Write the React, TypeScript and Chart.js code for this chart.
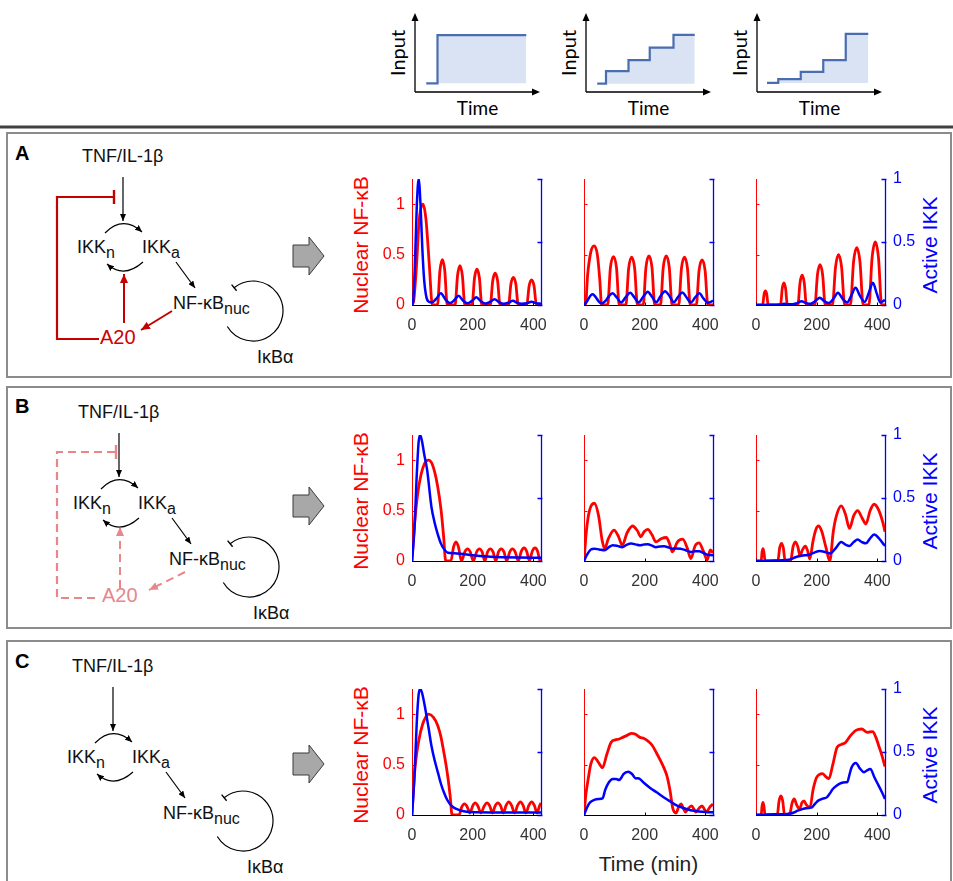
import React, { useEffect, useRef } from 'react';
import { Chart, registerables } from 'chart.js';
Chart.register(...registerables);

// ---------------- data ----------------
const X_TICKS = [0, 200, 400];
const NFKB_TICKS = [0, 0.5, 1];
const IKK_TICKS = [0, 0.5, 1];
const X_MAX = 425;
const NFKB_MAX = 1.25;
const IKK_MAX = 1;

// input schematics (relative time 0..100, relative level 0..1)
const INPUT1_T = [9, 18, 89];
const INPUT1_V = [0.11, 0.72, 0.72];
const INPUT2_T = [9, 16, 34, 51, 70, 87];
const INPUT2_V = [0.106, 0.264, 0.404, 0.562, 0.723, 0.723];
const INPUT3_T = [8, 17, 35, 53, 71, 89];
const INPUT3_V = [0.115, 0.162, 0.255, 0.404, 0.736, 0.736];

// Panel A
const A1_NFKB_T = [0, 6, 14, 24, 36, 46, 57, 67, 84, 92, 100, 108, 116, 142, 150, 158, 166, 174, 198, 206, 214, 222, 230, 258, 266, 274, 282, 290, 318, 326, 334, 342, 350, 378, 386, 394, 402, 410, 425];
const A1_NFKB_V = [0, 0.05, 0.35, 0.85, 1.0, 0.85, 0.4, 0, 0, 0.34, 0.45, 0.34, 0, 0, 0.29, 0.39, 0.29, 0, 0, 0.27, 0.355, 0.27, 0, 0, 0.24, 0.315, 0.24, 0, 0, 0.21, 0.275, 0.21, 0, 0, 0.19, 0.25, 0.19, 0, 0];
const A1_IKK_T = [0, 4, 10, 16, 22, 28, 34, 40, 46, 53, 65, 80, 95, 110, 125, 140, 153, 168, 183, 198, 212, 227, 242, 257, 272, 287, 302, 317, 332, 347, 362, 378, 394, 410, 425];
const A1_IKK_V = [0, 0.03, 0.35, 0.8, 1.0, 0.8, 0.45, 0.2, 0.08, 0.03, 0.02, 0.05, 0.093, 0.045, 0.015, 0.04, 0.074, 0.035, 0.013, 0.033, 0.061, 0.03, 0.012, 0.025, 0.045, 0.022, 0.01, 0.018, 0.034, 0.017, 0.01, 0.014, 0.026, 0.014, 0.01];

const A2_NFKB_T = [0, 5, 12, 22, 33, 44, 52, 58, 78, 87, 97, 107, 116, 138, 147, 157, 167, 176, 195, 204, 214, 224, 233, 252, 261, 271, 281, 290, 312, 321, 331, 341, 350, 370, 379, 389, 399, 408, 425];
const A2_NFKB_V = [0, 0, 0.3, 0.52, 0.587, 0.5, 0.25, 0, 0, 0.37, 0.48, 0.37, 0, 0, 0.36, 0.475, 0.36, 0, 0, 0.37, 0.487, 0.37, 0, 0, 0.37, 0.487, 0.37, 0, 0, 0.36, 0.475, 0.36, 0, 0, 0.34, 0.448, 0.34, 0, 0];
const A2_IKK_T = [0, 10, 20, 28, 38, 48, 58, 70, 82, 94, 108, 122, 137, 152, 166, 180, 195, 210, 224, 238, 252, 267, 282, 296, 310, 324, 338, 352, 366, 380, 394, 408, 418, 425];
const A2_IKK_V = [0, 0.03, 0.07, 0.085, 0.065, 0.03, 0.012, 0.03, 0.07, 0.093, 0.06, 0.02, 0.06, 0.098, 0.06, 0.02, 0.065, 0.106, 0.065, 0.022, 0.07, 0.11, 0.07, 0.022, 0.065, 0.1, 0.06, 0.02, 0.06, 0.093, 0.05, 0.018, 0.025, 0.035];

const A3_NFKB_T = [0, 22, 26.5, 31, 35.5, 40, 81, 86.5, 92, 97.5, 103, 138, 145, 152, 159, 166, 194, 202.5, 211, 219.5, 228, 252, 262, 272, 282, 292, 311, 321.5, 332, 342.5, 353, 372, 382.5, 393, 403.5, 414, 425];
const A3_NFKB_V = [0, 0, 0.105, 0.14, 0.105, 0, 0, 0.165, 0.22, 0.165, 0, 0, 0.22, 0.295, 0.22, 0, 0, 0.3, 0.4, 0.3, 0, 0, 0.375, 0.5, 0.375, 0, 0, 0.43, 0.57, 0.43, 0, 0, 0.47, 0.625, 0.47, 0, 0];
const A3_IKK_T = [0, 40, 80, 92, 105, 120, 135, 150, 165, 180, 195, 210, 225, 240, 255, 270, 285, 300, 314, 328, 343, 358, 372, 385, 398, 410, 418, 425];
const A3_IKK_V = [0, 0.002, 0.004, 0.01, 0.006, 0.005, 0.015, 0.03, 0.015, 0.01, 0.03, 0.058, 0.03, 0.015, 0.05, 0.098, 0.05, 0.02, 0.075, 0.137, 0.07, 0.025, 0.1, 0.177, 0.09, 0.02, 0.03, 0.04];

// Panel B
const B1_NFKB_T = [0, 8, 18, 30, 42, 54, 68, 84, 96, 104, 111, 128, 137, 145, 153, 163, 174, 183, 192, 202, 213, 222, 231, 240, 249, 258, 267, 276, 285, 294, 303, 312, 322, 331, 340, 350, 360, 369, 378, 387, 396, 405, 414, 422, 425];
const B1_NFKB_V = [0, 0.35, 0.65, 0.86, 0.97, 1.0, 0.95, 0.75, 0.5, 0.25, 0, 0, 0.14, 0.19, 0.14, 0, 0.09, 0.12, 0.09, 0, 0.09, 0.12, 0.09, 0, 0.09, 0.12, 0.09, 0, 0.09, 0.12, 0.09, 0, 0.09, 0.12, 0.09, 0, 0.095, 0.13, 0.095, 0, 0.095, 0.13, 0.095, 0, 0.01];
const B1_IKK_T = [0, 8, 16, 22, 27, 33, 40, 50, 64, 75, 84, 95, 104, 118, 140, 160, 200, 250, 300, 350, 425];
const B1_IKK_V = [0, 0.25, 0.7, 0.95, 1.0, 0.95, 0.85, 0.72, 0.43, 0.3, 0.22, 0.14, 0.1, 0.066, 0.062, 0.058, 0.045, 0.035, 0.03, 0.027, 0.025];

const B2_NFKB_T = [0, 8, 18, 34, 48, 60, 68, 80, 99, 114, 126, 142, 160, 176, 187, 198, 210, 224, 237, 254, 271, 282, 291, 308, 325, 340, 352, 366, 379, 393, 406, 416, 425];
const B2_NFKB_V = [0, 0.3, 0.5, 0.573, 0.45, 0.2, 0.123, 0.22, 0.307, 0.24, 0.157, 0.28, 0.347, 0.3, 0.24, 0.29, 0.313, 0.26, 0.19, 0.22, 0.233, 0.17, 0.09, 0.19, 0.217, 0.13, 0.023, 0.15, 0.18, 0.1, 0.01, 0.11, 0.08];
const B2_IKK_T = [0, 10, 22, 34, 50, 68, 82, 95, 110, 126, 140, 156, 170, 183, 196, 210, 224, 237, 250, 264, 278, 291, 305, 318, 335, 352, 366, 379, 393, 406, 416, 425];
const B2_IKK_V = [0, 0.05, 0.09, 0.098, 0.092, 0.085, 0.11, 0.125, 0.12, 0.11, 0.128, 0.138, 0.132, 0.125, 0.13, 0.133, 0.122, 0.11, 0.115, 0.117, 0.108, 0.098, 0.1, 0.098, 0.085, 0.072, 0.077, 0.077, 0.065, 0.05, 0.047, 0.045];

const B3_NFKB_T = [0, 17, 20, 23, 26, 30, 72, 78, 84, 90, 96, 114, 122, 130, 138, 145, 153, 163, 170, 177, 188, 197, 206, 216, 230, 243, 255, 266, 281, 295, 308, 322, 335, 349, 362, 376, 389, 405, 418, 425];
const B3_NFKB_V = [0, 0, 0.09, 0.123, 0.09, 0, 0, 0.13, 0.175, 0.13, 0, 0, 0.14, 0.19, 0.14, 0.05, 0.11, 0.147, 0.1, 0.02, 0.2, 0.31, 0.347, 0.3, 0.14, 0, 0.3, 0.46, 0.547, 0.46, 0.323, 0.45, 0.5, 0.43, 0.367, 0.5, 0.563, 0.5, 0.38, 0.29];
const B3_IKK_T = [0, 60, 100, 115, 130, 145, 160, 175, 190, 210, 228, 245, 262, 281, 295, 308, 322, 335, 349, 362, 376, 389, 405, 418, 425];
const B3_IKK_V = [0, 0.003, 0.008, 0.015, 0.03, 0.04, 0.045, 0.05, 0.065, 0.08, 0.072, 0.06, 0.1, 0.15, 0.13, 0.12, 0.15, 0.17, 0.15, 0.14, 0.18, 0.21, 0.18, 0.14, 0.12];

// Panel C
const C1_NFKB_T = [0, 8, 15, 23, 35, 45, 55, 70, 85, 95, 105, 112, 119, 126, 132, 155, 164, 173, 182, 191, 200, 208, 217, 227, 238, 247, 256, 265, 274, 283, 292, 301, 310, 319, 328, 338, 348, 357, 366, 375, 385, 394, 403, 412, 420, 425];
const C1_NFKB_V = [0, 0.4, 0.6, 0.75, 0.9, 0.97, 1.0, 0.97, 0.886, 0.78, 0.62, 0.5, 0.357, 0.18, 0, 0, 0.08, 0.11, 0.08, 0.02, 0.09, 0.12, 0.09, 0.02, 0.09, 0.12, 0.09, 0.02, 0.09, 0.12, 0.09, 0.02, 0.095, 0.13, 0.095, 0.02, 0.095, 0.13, 0.095, 0.02, 0.095, 0.13, 0.095, 0.02, 0.09, 0.12];
const C1_IKK_T = [0, 8, 16, 22, 27, 33, 44, 54, 64, 75, 85, 95, 105, 115, 125, 136, 146, 160, 180, 220, 300, 425];
const C1_IKK_V = [0, 0.3, 0.75, 0.96, 1.0, 0.97, 0.84, 0.7, 0.55, 0.43, 0.34, 0.25, 0.18, 0.125, 0.087, 0.062, 0.048, 0.036, 0.026, 0.022, 0.02, 0.02];

const C2_NFKB_T = [0, 6, 14, 22, 34, 48, 61, 75, 89, 103, 116, 128, 142, 157, 170, 184, 198, 212, 225, 238, 252, 263, 273, 283, 293, 303, 312, 320, 328, 334, 345, 355, 362, 368, 380, 389, 396, 403, 415, 425];
const C2_NFKB_V = [0, 0.2, 0.36, 0.5, 0.57, 0.52, 0.47, 0.6, 0.72, 0.745, 0.754, 0.77, 0.79, 0.81, 0.8, 0.77, 0.76, 0.73, 0.69, 0.62, 0.54, 0.47, 0.39, 0.25, 0.06, 0.02, 0.08, 0.11, 0.06, 0.03, 0.07, 0.09, 0.06, 0.03, 0.07, 0.09, 0.06, 0.03, 0.08, 0.11];
const C2_IKK_T = [0, 10, 20, 34, 48, 61, 70, 82, 95, 106, 116, 124, 130, 146, 158, 171, 178, 184, 198, 218, 239, 260, 280, 295, 307, 328, 348, 368, 389, 410, 425];
const C2_IKK_V = [0, 0.06, 0.1, 0.12, 0.127, 0.132, 0.2, 0.26, 0.286, 0.285, 0.278, 0.3, 0.325, 0.344, 0.325, 0.29, 0.292, 0.286, 0.254, 0.215, 0.18, 0.145, 0.114, 0.09, 0.074, 0.055, 0.04, 0.032, 0.026, 0.022, 0.021];

const C3_NFKB_T = [0, 17, 20, 23, 26, 30, 70, 76, 82, 88, 94, 112, 119, 126, 134, 144, 151, 158, 166, 178, 188, 199, 210, 219, 230, 240, 253, 267, 281, 295, 312, 329, 349, 360, 367, 375, 384, 395, 404, 415, 425];
const C3_NFKB_V = [0, 0, 0.09, 0.125, 0.09, 0, 0, 0.14, 0.19, 0.14, 0, 0.02, 0.12, 0.16, 0.1, 0.06, 0.12, 0.14, 0.1, 0.076, 0.25, 0.37, 0.405, 0.41, 0.38, 0.36, 0.5, 0.67, 0.7, 0.72, 0.79, 0.84, 0.853, 0.83, 0.82, 0.825, 0.827, 0.77, 0.69, 0.59, 0.48];
const C3_IKK_T = [0, 60, 110, 125, 137, 150, 164, 178, 185, 195, 205, 220, 233, 243, 253, 267, 281, 295, 301, 308, 315, 329, 342, 356, 366, 377, 390, 404, 415, 425];
const C3_IKK_V = [0, 0.005, 0.01, 0.02, 0.034, 0.045, 0.053, 0.058, 0.062, 0.09, 0.114, 0.13, 0.14, 0.17, 0.206, 0.235, 0.254, 0.26, 0.262, 0.32, 0.378, 0.413, 0.37, 0.339, 0.355, 0.365, 0.3, 0.233, 0.18, 0.127];

// ---------------- layout / style ----------------
const FONT = "'Liberation Sans', Arial, Helvetica, sans-serif";
const COL_X = [412, 584, 756];
const ROW_Y = [179, 435, 689];
const AREA_W = 129;
const AREA_H = 126;
const PAD_L = 45, PAD_R = 45, PAD_T = 12, PAD_B = 34;

const INPUT_X = [415, 586, 757];
const INPUT_TOP = 13;
const INPUT_W = 125;
const INPUT_H = 79;
const INPUT_PAD = 8;

const RED = '#ff0000';
const BLUE = '#0000ff';

const PLOTS = [
  { r: 0, c: 0, nfT: A1_NFKB_T, nfV: A1_NFKB_V, ikT: A1_IKK_T, ikV: A1_IKK_V },
  { r: 0, c: 1, nfT: A2_NFKB_T, nfV: A2_NFKB_V, ikT: A2_IKK_T, ikV: A2_IKK_V },
  { r: 0, c: 2, nfT: A3_NFKB_T, nfV: A3_NFKB_V, ikT: A3_IKK_T, ikV: A3_IKK_V },
  { r: 1, c: 0, nfT: B1_NFKB_T, nfV: B1_NFKB_V, ikT: B1_IKK_T, ikV: B1_IKK_V },
  { r: 1, c: 1, nfT: B2_NFKB_T, nfV: B2_NFKB_V, ikT: B2_IKK_T, ikV: B2_IKK_V },
  { r: 1, c: 2, nfT: B3_NFKB_T, nfV: B3_NFKB_V, ikT: B3_IKK_T, ikV: B3_IKK_V },
  { r: 2, c: 0, nfT: C1_NFKB_T, nfV: C1_NFKB_V, ikT: C1_IKK_T, ikV: C1_IKK_V },
  { r: 2, c: 1, nfT: C2_NFKB_T, nfV: C2_NFKB_V, ikT: C2_IKK_T, ikV: C2_IKK_V },
  { r: 2, c: 2, nfT: C3_NFKB_T, nfV: C3_NFKB_V, ikT: C3_IKK_T, ikV: C3_IKK_V },
];

const INPUTS = [
  { t: INPUT1_T, v: INPUT1_V },
  { t: INPUT2_T, v: INPUT2_V },
  { t: INPUT3_T, v: INPUT3_V },
];

const toXY = (t: number[], v: number[]) => t.map((x, i) => ({ x, y: v[i] }));

// ---------------- plugins ----------------
const dualAxesPlugin = {
  id: 'dualAxes',
  beforeDatasetsDraw(chart: any) {
    const { ctx, chartArea: a, scales } = chart;
    const xs = scales.x, yl = scales.y, yr = scales.y1;
    ctx.save();
    // left (red)
    const lx = Math.round(a.left) + 0.5;
    ctx.strokeStyle = RED;
    ctx.lineWidth = 1;
    ctx.beginPath();
    ctx.moveTo(lx, a.top);
    ctx.lineTo(lx, a.bottom);
    NFKB_TICKS.forEach((v) => {
      const py = Math.round(yl.getPixelForValue(v)) + 0.5;
      ctx.moveTo(lx, py);
      ctx.lineTo(lx + 3, py);
    });
    ctx.stroke();
    // right (blue)
    const rx = Math.round(a.right) + 0.5;
    ctx.strokeStyle = BLUE;
    ctx.lineWidth = 1.3;
    ctx.beginPath();
    ctx.moveTo(rx, a.top);
    ctx.lineTo(rx, a.bottom);
    IKK_TICKS.forEach((v) => {
      const py = Math.round(yr.getPixelForValue(v)) + 0.5;
      ctx.moveTo(rx + 1, py);
      ctx.lineTo(rx - 4, py);
    });
    ctx.stroke();
    // bottom (black)
    ctx.strokeStyle = '#000';
    ctx.lineWidth = 1;
    const by = Math.round(yl.getPixelForValue(0)) + 0.5;
    ctx.beginPath();
    ctx.moveTo(a.left, by);
    ctx.lineTo(a.right, by);
    X_TICKS.forEach((v) => {
      const px = Math.round(xs.getPixelForValue(v)) + 0.5;
      ctx.moveTo(px, by);
      ctx.lineTo(px, by - 3);
    });
    ctx.stroke();
    ctx.restore();
  },
};

const arrowAxesPlugin = {
  id: 'arrowAxes',
  afterDraw(chart: any) {
    const { ctx, chartArea: a } = chart;
    ctx.save();
    ctx.strokeStyle = '#000';
    ctx.fillStyle = '#000';
    ctx.lineWidth = 1.3;
    ctx.beginPath();
    ctx.moveTo(a.left, a.bottom);
    ctx.lineTo(a.left, a.top + 5);
    ctx.moveTo(a.left, a.bottom);
    ctx.lineTo(a.right - 5, a.bottom);
    ctx.stroke();
    ctx.beginPath();
    ctx.moveTo(a.left, a.top);
    ctx.lineTo(a.left - 3.5, a.top + 8);
    ctx.lineTo(a.left + 3.5, a.top + 8);
    ctx.closePath();
    ctx.fill();
    ctx.beginPath();
    ctx.moveTo(a.right, a.bottom);
    ctx.lineTo(a.right - 8, a.bottom - 3.5);
    ctx.lineTo(a.right - 8, a.bottom + 3.5);
    ctx.closePath();
    ctx.fill();
    ctx.restore();
  },
};

// ---------------- chart components ----------------
function DualPlot({ r, c, nfT, nfV, ikT, ikV }: any) {
  const ref = useRef<HTMLCanvasElement>(null);
  const w = PAD_L + AREA_W + PAD_R;
  const h = PAD_T + AREA_H + PAD_B;
  const showLeft = c === 0;
  const showRight = c === 2;
  useEffect(() => {
    const chart = new Chart(ref.current as HTMLCanvasElement, {
      type: 'line',
      data: {
        datasets: [
          {
            data: toXY(ikT, ikV),
            yAxisID: 'y1',
            borderColor: BLUE,
            borderWidth: 2.5,
            pointRadius: 0,
            fill: false,
            cubicInterpolationMode: 'monotone',
          },
          {
            data: toXY(nfT, nfV),
            yAxisID: 'y',
            borderColor: RED,
            borderWidth: 2.8,
            pointRadius: 0,
            fill: false,
            cubicInterpolationMode: 'monotone',
          },
        ],
      } as any,
      options: {
        animation: false,
        responsive: false,
        events: [],
        layout: { padding: { top: PAD_T, left: 0, right: 0, bottom: 0 } },
        plugins: { legend: { display: false }, tooltip: { enabled: false } },
        scales: {
          x: {
            type: 'linear',
            min: 0,
            max: X_MAX,
            grid: { display: false, drawTicks: false },
            border: { display: false },
            afterBuildTicks: (s: any) => {
              s.ticks = X_TICKS.map((v) => ({ value: v }));
            },
            afterFit: (s: any) => {
              s.height = PAD_B;
              s.paddingLeft = 0;
              s.paddingRight = 0;
            },
            ticks: {
              font: { family: FONT, size: 16 },
              color: '#333',
              padding: 11,
              maxRotation: 0,
              autoSkip: false,
              callback: (v: any) => String(v),
            },
          },
          y: {
            type: 'linear',
            position: 'left',
            min: 0,
            max: NFKB_MAX,
            grid: { display: false, drawTicks: false },
            border: { display: false },
            afterBuildTicks: (s: any) => {
              s.ticks = NFKB_TICKS.map((v) => ({ value: v }));
            },
            afterFit: (s: any) => {
              s.width = PAD_L;
              s.paddingTop = 0;
              s.paddingBottom = 0;
            },
            ticks: {
              display: showLeft,
              font: { family: FONT, size: 16 },
              color: RED,
              padding: 7,
              callback: (v: any) => String(v),
            },
          },
          y1: {
            type: 'linear',
            position: 'right',
            min: 0,
            max: IKK_MAX,
            grid: { display: false, drawTicks: false },
            border: { display: false },
            afterBuildTicks: (s: any) => {
              s.ticks = IKK_TICKS.map((v) => ({ value: v }));
            },
            afterFit: (s: any) => {
              s.width = PAD_R;
              s.paddingTop = 0;
              s.paddingBottom = 0;
            },
            ticks: {
              display: showRight,
              font: { family: FONT, size: 16 },
              color: BLUE,
              padding: 8,
              callback: (v: any) => String(v),
            },
          },
        },
      } as any,
      plugins: [dualAxesPlugin],
    });
    return () => chart.destroy();
  }, []);
  return (
    <canvas
      ref={ref}
      width={w}
      height={h}
      style={{ position: 'absolute', left: COL_X[c] - PAD_L, top: ROW_Y[r] - PAD_T, width: w, height: h }}
    />
  );
}

function InputPlot({ idx, t, v }: any) {
  const ref = useRef<HTMLCanvasElement>(null);
  const w = INPUT_W + 2 * INPUT_PAD;
  const h = INPUT_H + 2 * INPUT_PAD;
  useEffect(() => {
    const chart = new Chart(ref.current as HTMLCanvasElement, {
      type: 'line',
      data: {
        datasets: [
          {
            data: toXY(t, v),
            stepped: 'before',
            borderColor: '#4a6db0',
            borderWidth: 2.2,
            backgroundColor: '#dae3f3',
            fill: { value: v[0] },
            pointRadius: 0,
          },
        ],
      } as any,
      options: {
        animation: false,
        responsive: false,
        events: [],
        layout: { padding: INPUT_PAD },
        plugins: { legend: { display: false }, tooltip: { enabled: false } },
        scales: {
          x: { type: 'linear', min: 0, max: 100, display: false },
          y: { type: 'linear', min: 0, max: 1, display: false },
        },
      } as any,
      plugins: [arrowAxesPlugin],
    });
    return () => chart.destroy();
  }, []);
  return (
    <canvas
      ref={ref}
      width={w}
      height={h}
      style={{ position: 'absolute', left: INPUT_X[idx] - INPUT_PAD, top: INPUT_TOP - INPUT_PAD, width: w, height: h }}
    />
  );
}

// ---------------- network diagrams ----------------
function Network({ dx, dy }: { dx: number; dy: number }) {
  const k = '#000';
  return (
    <g transform={`translate(${dx},${dy})`} fill="#111" fontSize={18}>
      <text x={82} y={162}>TNF/IL-1β</text>
      <line x1={123} y1={177} x2={123} y2={221} stroke={k} strokeWidth={1.2} markerEnd="url(#ahK)" />
      <path d="M105,233 Q123,215 142,232" fill="none" stroke={k} strokeWidth={1.2} markerEnd="url(#ahK)" />
      <text x={77} y={253}>IKK<tspan fontSize={16} dy={5}>n</tspan></text>
      <text x={142} y={253}>IKK<tspan fontSize={16} dy={5}>a</tspan></text>
      <path d="M143,262 Q124,279 107,264" fill="none" stroke={k} strokeWidth={1.2} markerEnd="url(#ahK)" />
      <line x1={176} y1={262} x2={195} y2={288} stroke={k} strokeWidth={1.2} markerEnd="url(#ahK)" />
      <text x={173} y={309}>NF-κB<tspan fontSize={16} dy={5}>nuc</tspan></text>
      <path d="M234.1,287.7 A30,30 0 1 1 227.3,326.5" fill="none" stroke={k} strokeWidth={1.2} />
      <line x1={231.6} y1={284.6} x2={236.6} y2={290.8} stroke={k} strokeWidth={1.4} />
      <text x={257} y={363}>IκBα</text>
    </g>
  );
}

function BlockArrow({ cy }: { cy: number }) {
  const pts = [
    [293, cy - 11], [309, cy - 11], [309, cy - 19], [324, cy],
    [309, cy + 19], [309, cy + 11], [293, cy + 11],
  ].map((p) => p.join(',')).join(' ');
  return <polygon points={pts} fill="#a8a8a8" stroke="#3a3a3a" strokeWidth={1} />;
}

function Overlay() {
  const dred = '#c40000';
  const pink = '#e8868a';
  return (
    <svg width={953} height={881} style={{ position: 'absolute', left: 0, top: 0 }} fontFamily={FONT}>
      <defs>
        <marker id="ahK" markerUnits="userSpaceOnUse" markerWidth={7} markerHeight={6} viewBox="0 0 7 6" refX={7} refY={3} orient="auto">
          <path d="M0,0 L7,3 L0,6 z" fill="#000" />
        </marker>
        <marker id="ahR" markerUnits="userSpaceOnUse" markerWidth={9} markerHeight={8} viewBox="0 0 9 8" refX={9} refY={4} orient="auto">
          <path d="M0,0 L9,4 L0,8 z" fill={dred} />
        </marker>
        <marker id="ahP" markerUnits="userSpaceOnUse" markerWidth={9} markerHeight={8} viewBox="0 0 9 8" refX={9} refY={4} orient="auto">
          <path d="M0,0 L9,4 L0,8 z" fill={pink} />
        </marker>
      </defs>

      {/* separator and panel frames */}
      <rect x={0} y={125.5} width={953} height={3} fill="#404040" />
      <rect x={7} y={133} width={944} height={244} fill="none" stroke="#8c8c8c" strokeWidth={2} />
      <rect x={7} y={387} width={944} height={241} fill="none" stroke="#8c8c8c" strokeWidth={2} />
      <rect x={7} y={641} width={944} height={250} fill="none" stroke="#8c8c8c" strokeWidth={2} />

      {/* input schematic labels */}
      {INPUT_X.map((x, i) => (
        <g key={'in' + i}>
          <text transform={`translate(${x - 10},${INPUT_TOP + 40}) rotate(-90)`} textAnchor="middle" fontFamily="Lato, 'Open Sans', sans-serif" fontSize={20} fill="#000">Input</text>
          <text x={x + INPUT_W / 2} y={115} textAnchor="middle" fontFamily="Lato, 'Open Sans', sans-serif" fontSize={19} fill="#000">Time</text>
        </g>
      ))}

      {/* panel letters */}
      <text x={15} y={160} fontSize={20} fontWeight="bold" fill="#000">A</text>
      <text x={15} y={413} fontSize={20} fontWeight="bold" fill="#000">B</text>
      <text x={15} y={668} fontSize={20} fontWeight="bold" fill="#000">C</text>

      {/* networks */}
      <Network dx={0} dy={0} />
      <Network dx={-4} dy={256} />
      <Network dx={-10} dy={510} />

      {/* A20 feedback, panel A */}
      <polyline points="114,197 57,197 57,339 99,339" fill="none" stroke={dred} strokeWidth={2.2} />
      <line x1={114} y1={190} x2={114} y2={204} stroke={dred} strokeWidth={2.4} />
      <line x1={124} y1={323} x2={124} y2={274} stroke={dred} strokeWidth={2} markerEnd="url(#ahR)" />
      <line x1={172} y1={311} x2={141} y2={330} stroke={dred} strokeWidth={2} markerEnd="url(#ahR)" />
      <text x={100} y={344} fontSize={20} fill="#d10000">A20</text>

      {/* A20 feedback, panel B (dashed) */}
      <polyline points="115,452 57,452 57,598 99,598" fill="none" stroke={pink} strokeWidth={2.2} strokeDasharray="8 5" />
      <line x1={116} y1={445} x2={116} y2={459} stroke={pink} strokeWidth={2.4} />
      <line x1={120} y1={588} x2={120} y2={527} stroke={pink} strokeWidth={2} strokeDasharray="8 5" markerEnd="url(#ahP)" />
      <line x1={185} y1={572} x2={149} y2={590} stroke={pink} strokeWidth={2} strokeDasharray="8 5" markerEnd="url(#ahP)" />
      <text x={102} y={602} fontSize={20} fill={pink}>A20</text>

      {/* block arrows */}
      <BlockArrow cy={256} />
      <BlockArrow cy={506} />
      <BlockArrow cy={764} />

      {/* axis titles */}
      {ROW_Y.map((y, i) => (
        <g key={'t' + i}>
          <text transform={`translate(368,${y + 66}) rotate(-90)`} textAnchor="middle" fontSize={21} fill={RED}>Nuclear NF-κB</text>
          <text transform={`translate(937,${y + 66}) rotate(-90)`} textAnchor="middle" fontSize={21} fill={BLUE}>Active IKK</text>
        </g>
      ))}
      <text x={COL_X[1] + AREA_W / 2} y={871} textAnchor="middle" fontSize={21} fill="#222">Time (min)</text>
    </svg>
  );
}

export default function App() {
  useEffect(() => {
    document.body.style.margin = '0';
  }, []);
  return (
    <div style={{ position: 'absolute', left: 0, top: 0, width: 953, height: 881, overflow: 'hidden', background: '#fff' }}>
      <Overlay />
      {INPUTS.map((p, i) => (
        <InputPlot key={'i' + i} idx={i} t={p.t} v={p.v} />
      ))}
      {PLOTS.map((p, i) => (
        <DualPlot key={'p' + i} {...p} />
      ))}
    </div>
  );
}
